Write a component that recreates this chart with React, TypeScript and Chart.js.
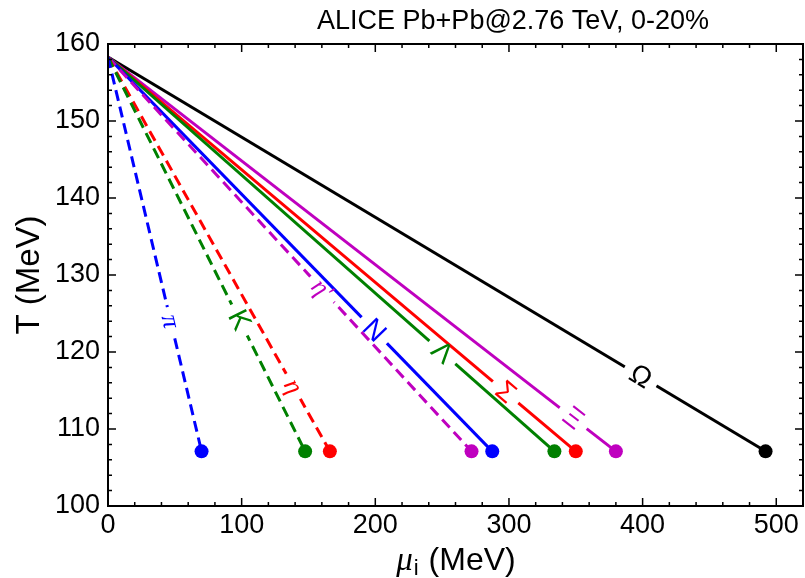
import React, { useEffect, useRef } from "react";
import { Chart, registerables } from "chart.js";

Chart.register(...registerables);

// ---- data ----
const species = ["π", "K", "η", "η′", "N", "Λ", "Σ", "Ξ", "Ω"];
const muEnd = [70, 147.5, 166, 272, 287.5, 334, 350, 380, 492];
const tStart = 158.3;
const tEnd = 107.1;
const colors = ["#0000ff", "#008000", "#ff0000", "#bf00bf", "#0000ff", "#008000", "#ff0000", "#bf00bf", "#000000"];
const dashed = [true, true, true, true, false, false, false, false, false];
const italicLabel = [true, false, true, true, false, false, false, false, false];
const labelFrac = [0.67, 0.667, 0.835, 0.589, 0.693, 0.749, 0.85, 0.916, 0.81];
const xTicks = [0, 100, 200, 300, 400, 500];
const yTicks = [100, 110, 120, 130, 140, 150, 160];
const xMinorStep = 20;
const yMinorStep = 2;
const xRange = [0, 520];
const yRange = [100, 160];
const titleText = "ALICE Pb+Pb@2.76 TeV, 0-20%";

const SANS = "'Liberation Sans', Arial, Helvetica, sans-serif";
const SERIF = "'Liberation Serif', 'DejaVu Serif', serif";

const decorPlugin = {
  id: "decor",
  afterDatasetsDraw(chart: any) {
    const ctx = chart.ctx as CanvasRenderingContext2D;
    chart.data.datasets.forEach((ds: any, i: number) => {
      const meta = chart.getDatasetMeta(i);
      const p0 = meta.data[0];
      const p1 = meta.data[1];
      const f = labelFrac[i];
      const x = p0.x + (p1.x - p0.x) * f;
      const y = p0.y + (p1.y - p0.y) * f;
      const ang = Math.atan2(p1.y - p0.y, p1.x - p0.x);
      ctx.save();
      ctx.translate(x, y);
      ctx.rotate(ang);
      ctx.font = italicLabel[i] ? `italic 26px ${SERIF}` : `28px ${SANS}`;
      const w = ctx.measureText(species[i]).width;
      ctx.fillStyle = "#ffffff";
      ctx.fillRect(-w / 2 - 8, -4, w + 16, 8);
      ctx.fillStyle = colors[i];
      ctx.textAlign = "center";
      ctx.textBaseline = "middle";
      ctx.fillText(species[i], 0, 1);
      ctx.restore();
    });
  },
  afterDraw(chart: any) {
    const ctx = chart.ctx as CanvasRenderingContext2D;
    const a = chart.chartArea;
    const xs = chart.scales.x;
    const ys = chart.scales.y;
    ctx.save();
    ctx.strokeStyle = "#000";
    ctx.lineWidth = 1.5;
    ctx.beginPath();
    for (let v = xRange[0]; v <= xRange[1] + 1e-9; v += xMinorStep) {
      const px = xs.getPixelForValue(v);
      const major = xTicks.includes(v);
      const len = major ? 8 : 4;
      ctx.moveTo(px, a.bottom);
      ctx.lineTo(px, a.bottom - len);
      ctx.moveTo(px, a.top);
      ctx.lineTo(px, a.top + len);
    }
    for (let v = yRange[0]; v <= yRange[1] + 1e-9; v += yMinorStep) {
      const py = ys.getPixelForValue(v);
      const major = yTicks.includes(v);
      const len = major ? 8 : 4;
      ctx.moveTo(a.left, py);
      ctx.lineTo(a.left + len, py);
      ctx.moveTo(a.right, py);
      ctx.lineTo(a.right - len, py);
    }
    ctx.stroke();
    ctx.lineWidth = 2;
    ctx.strokeRect(a.left, a.top, a.right - a.left, a.bottom - a.top);

    // title
    ctx.fillStyle = "#000";
    ctx.font = `27px ${SANS}`;
    ctx.textAlign = "center";
    ctx.textBaseline = "alphabetic";
    ctx.fillText(titleText, 513, 29);

    // y title
    ctx.save();
    ctx.translate(39, (a.top + a.bottom) / 2);
    ctx.rotate(-Math.PI / 2);
    ctx.font = `33px ${SANS}`;
    ctx.textAlign = "center";
    ctx.fillText("T (MeV)", 0, 0);
    ctx.restore();

    // x title: μ_i (MeV)
    const muFont = `italic 33px ${SERIF}`;
    const subFont = `22px ${SANS}`;
    const restFont = `32px ${SANS}`;
    ctx.font = muFont;
    const wMu = ctx.measureText("μ").width;
    ctx.font = subFont;
    const wSub = ctx.measureText("i").width;
    ctx.font = restFont;
    const rest = " (MeV)";
    const wRest = ctx.measureText(rest).width;
    const total = wMu + wSub + 2 + wRest;
    let cx = 456 - total / 2;
    const base = 570;
    ctx.textAlign = "left";
    ctx.font = muFont;
    ctx.fillText("μ", cx, base);
    cx += wMu + 1;
    ctx.font = subFont;
    ctx.fillText("i", cx, base + 5);
    cx += wSub + 1;
    ctx.font = restFont;
    ctx.fillText(rest, cx, base);
    ctx.restore();
  },
};

export default function App() {
  const ref = useRef<HTMLCanvasElement | null>(null);
  useEffect(() => {
    if (!ref.current) return;
    const datasets = species.map((s, i) => ({
      label: s,
      data: [
        { x: 0, y: tStart },
        { x: muEnd[i], y: tEnd },
      ],
      borderColor: colors[i],
      backgroundColor: colors[i],
      borderWidth: 3,
      borderDash: dashed[i] ? [11, 6] : [],
      pointRadius: [0, 7],
      pointHoverRadius: [0, 7],
      pointBorderWidth: 0,
      pointBackgroundColor: colors[i],
      showLine: true,
      fill: false,
      tension: 0,
    }));
    const chart = new Chart(ref.current, {
      type: "line",
      data: { datasets },
      options: {
        responsive: false,
        animation: false,
        events: [],
        layout: { autoPadding: false, padding: { top: 44, right: 2, left: 0, bottom: 0 } },
        plugins: {
          legend: { display: false },
          title: { display: false },
          tooltip: { enabled: false },
        },
        scales: {
          x: {
            type: "linear",
            min: xRange[0],
            max: xRange[1],
            grid: { display: false, drawTicks: false },
            border: { display: false },
            ticks: { color: "#000", font: { size: 27, family: SANS }, padding: 3, maxRotation: 0 },
            afterBuildTicks: (scale: any) => {
              scale.ticks = xTicks.map((v) => ({ value: v }));
            },
            afterFit: (scale: any) => {
              scale.height = 72;
              scale.paddingLeft = 0;
              scale.paddingRight = 0;
            },
          },
          y: {
            type: "linear",
            min: yRange[0],
            max: yRange[1],
            grid: { display: false, drawTicks: false },
            border: { display: false },
            ticks: { color: "#000", font: { size: 27, family: SANS }, padding: 8 },
            afterBuildTicks: (scale: any) => {
              scale.ticks = yTicks.map((v) => ({ value: v }));
            },
            afterFit: (scale: any) => {
              scale.width = 108;
              scale.paddingTop = 0;
              scale.paddingBottom = 0;
            },
          },
        },
      } as any,
      plugins: [decorPlugin],
    });
    return () => chart.destroy();
  }, []);
  return (
    <div style={{ position: "absolute", left: 0, top: 0, width: 805, height: 578, background: "#fff" }}>
      <canvas ref={ref} width={805} height={578} style={{ display: "block" }} />
    </div>
  );
}
